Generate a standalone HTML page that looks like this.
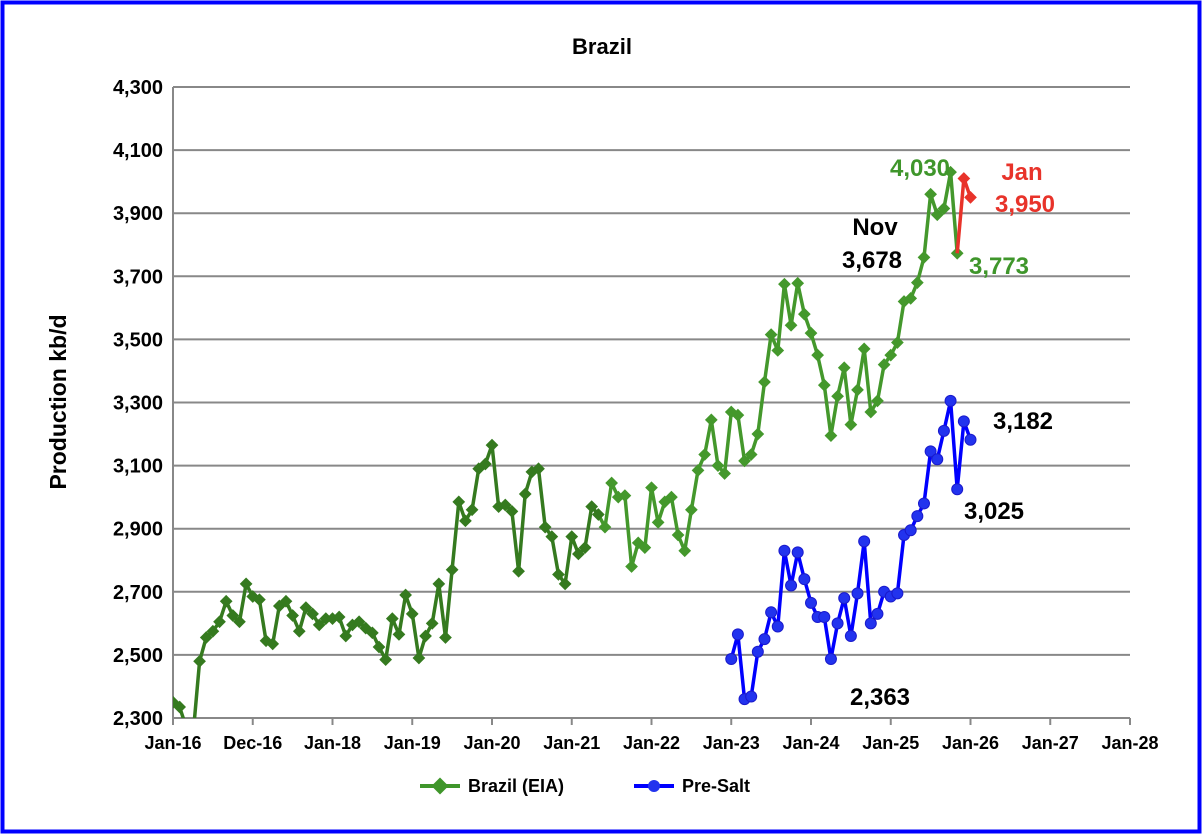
<!DOCTYPE html>
<html><head><meta charset="utf-8"><style>
body{margin:0;background:#fff;}
svg{display:block;font-family:"Liberation Sans",Arial,sans-serif;font-weight:bold;}
</style></head><body>
<svg id="s" width="1202" height="834" viewBox="0 0 1202 834" xmlns="http://www.w3.org/2000/svg">
<rect x="2.5" y="2.5" width="1197" height="829" fill="#fff" stroke="#0000ff" stroke-width="4"/>
<text x="602" y="54" font-size="22" text-anchor="middle">Brazil</text>
<g id="grid"></g>
<text transform="translate(66,402) rotate(-90)" font-size="23" text-anchor="middle">Production kb/d</text>
<g id="ser"></g>
<g font-size="24">
<text x="920" y="176" fill="#3f962b" text-anchor="middle">4,030</text>
<text x="1022" y="180" fill="#e8332a" text-anchor="middle">Jan</text>
<text x="1025" y="212" fill="#e8332a" text-anchor="middle">3,950</text>
<text x="875" y="235" fill="#000" text-anchor="middle">Nov</text>
<text x="872" y="268" fill="#000" text-anchor="middle">3,678</text>
<text x="999" y="274" fill="#3f962b" text-anchor="middle">3,773</text>
<text x="1023" y="429" fill="#000" text-anchor="middle">3,182</text>
<text x="994" y="519" fill="#000" text-anchor="middle">3,025</text>
<text x="880" y="705" fill="#000" text-anchor="middle">2,363</text>
</g>
<g font-size="18">
<line x1="420" y1="786" x2="460" y2="786" stroke="#3f962b" stroke-width="4"/>
<rect x="434" y="780" width="12" height="12" fill="#3f962b" transform="rotate(45 440 786)"/>
<text x="468" y="792">Brazil (EIA)</text>
<line x1="634" y1="786" x2="674" y2="786" stroke="#0000ff" stroke-width="4"/>
<circle cx="654" cy="786" r="6" fill="#2233ee"/>
<text x="682" y="792">Pre-Salt</text>
</g>
</svg>
<script>
var ns="http://www.w3.org/2000/svg",s=document.getElementById('s');
var g=document.getElementById('grid'),ser=document.getElementById('ser');
function el(p,t,a){var e=document.createElementNS(ns,t);for(var k in a)e.setAttribute(k,a[k]);p.appendChild(e);return e;}
var X0=173,X1=1130,Y0=718,Y1=87;
function Y(v){return Y0-(v-2300)/2000*(Y0-Y1);}
function X(i){return X0+i*(X1-X0)/144;}
for(var v=2300;v<=4300;v+=200){var y=Y(v);
 if(v>2300)el(g,'line',{x1:X0,x2:X1,y1:y,y2:y,stroke:'#888','stroke-width':2});
 var t=el(g,'text',{x:X0-10,y:y+7,'font-size':20,'text-anchor':'end'});t.textContent=v.toLocaleString('en-US');}
el(g,'line',{x1:X0,x2:X0,y1:Y1,y2:Y0,stroke:'#888','stroke-width':2});
el(g,'line',{x1:X0,x2:X1,y1:Y0,y2:Y0,stroke:'#888','stroke-width':2});
var labs=['Jan-16','Dec-16','Jan-18','Jan-19','Jan-20','Jan-21','Jan-22','Jan-23','Jan-24','Jan-25','Jan-26','Jan-27','Jan-28'];
for(var i=0;i<13;i++){var x=X0+i*(X1-X0)/12;el(g,'line',{x1:x,x2:x,y1:Y0,y2:Y0+7,stroke:'#888','stroke-width':2});
 var t=el(g,'text',{x:x,y:Y0+31,'font-size':18,'text-anchor':'middle'});t.textContent=labs[i];}
var gr=[2350,2335,2270,2240,2480,2555,2575,2605,2670,2625,2605,2725,
2685,2675,2545,2535,2655,2670,2625,2575,2650,2630,2595,2615,
2615,2620,2560,2595,2605,2585,2570,2525,2485,2615,2565,2690,
2630,2490,2560,2600,2725,2555,2770,2985,2925,2960,3090,3105,
3165,2970,2975,2955,2765,3010,3080,3090,2905,2875,2755,2725,
2875,2820,2840,2970,2945,2905,3045,3000,3005,2780,2855,2840,
3030,2920,2985,3000,2880,2830,2960,3085,3135,3245,3100,3075,
3270,3260,3115,3135,3200,3365,3515,3465,3675,3545,3678,3580,
3520,3450,3355,3195,3320,3410,3230,3340,3470,3270,3305,3420,
3450,3490,3620,3630,3680,3760,3960,3895,3915,4030,3773];
var bl=[2487,2565,2360,2368,2510,2550,2635,2590,2830,2720,2825,2740,
2665,2620,2620,2487,2600,2680,2560,2695,2860,2600,2630,2700,
2685,2695,2880,2895,2940,2980,3145,3120,3210,3305,3025,3240,3182];
var cp=el(s,'clipPath',{id:'c'});el(cp,'rect',{x:X0,y:Y1,width:X1-X0,height:Y0-Y1});
ser.setAttribute('clip-path','url(#c)');
function line(d,off,col){var p=d.map(function(v,i){return X(i+off).toFixed(1)+','+Y(v).toFixed(1)}).join(' ');
 el(ser,'polyline',{points:p,fill:'none',stroke:col,'stroke-width':3.5,'stroke-linejoin':'round'});}
line(gr.slice(0,65),0,'#357a1f');
line(gr.slice(64),64,'#44982c');
gr.forEach(function(v,i){var x=X(i),y=Y(v);el(ser,'rect',{x:x-4.5,y:y-4.5,width:9,height:9,fill:i<65?'#357a1f':'#44982c',transform:'rotate(45 '+x+' '+y+')'});});
line([3773,4010,3950],118,'#e8332a');
[[119,4010],[120,3950]].forEach(function(a){var x=X(a[0]),y=Y(a[1]);el(ser,'rect',{x:x-4.5,y:y-4.5,width:9,height:9,fill:'#e8332a',transform:'rotate(45 '+x+' '+y+')'});});
line(bl,84,'#0000ff');
bl.forEach(function(v,i){el(ser,'circle',{cx:X(i+84),cy:Y(v),r:5.5,fill:'#2233ee',stroke:'#1a1acc','stroke-width':1});});
</script>
</body></html>
